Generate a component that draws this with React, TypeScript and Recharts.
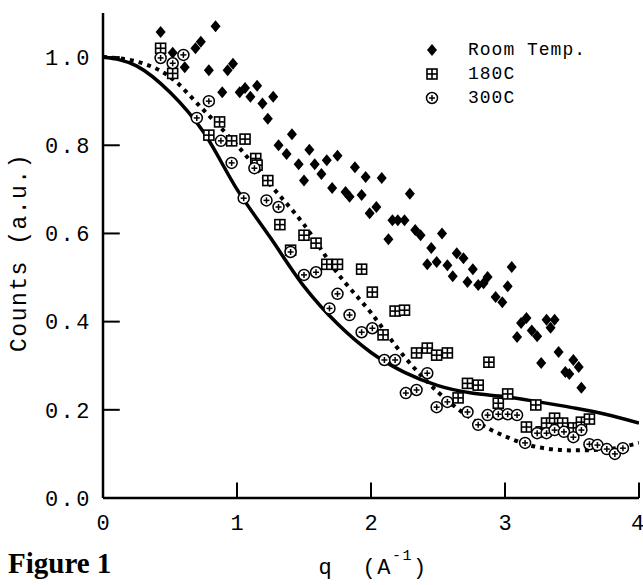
import React from 'react';
import {
  ComposedChart,
  Line,
  Scatter,
  XAxis,
  YAxis,
  ReferenceLine,
  Legend,
} from 'recharts';

// scattered counts: [q, counts]
const roomTemp: [number, number][] = [
  [0.43, 1.057], [0.52, 1.01], [0.61, 0.977], [0.69, 1.02], [0.73, 1.035], [0.79, 0.97],
  [0.84, 1.07], [0.89, 0.92], [0.93, 0.97], [0.97, 0.985], [1.02, 0.92], [1.06, 0.93],
  [1.10, 0.91], [1.15, 0.935], [1.19, 0.895], [1.23, 0.86], [1.27, 0.91], [1.31, 0.80],
  [1.37, 0.78], [1.41, 0.825], [1.46, 0.757], [1.50, 0.72], [1.54, 0.79], [1.58, 0.757],
  [1.63, 0.735], [1.67, 0.766], [1.71, 0.703], [1.75, 0.776], [1.81, 0.694], [1.84, 0.683],
  [1.88, 0.75], [1.93, 0.687], [1.96, 0.728], [1.99, 0.646], [2.04, 0.66], [2.08, 0.726],
  [2.13, 0.587], [2.16, 0.63], [2.20, 0.63], [2.25, 0.63], [2.29, 0.69], [2.33, 0.608],
  [2.37, 0.596], [2.42, 0.53], [2.45, 0.567], [2.49, 0.535], [2.53, 0.60], [2.57, 0.528],
  [2.61, 0.503], [2.64, 0.555], [2.69, 0.544], [2.72, 0.49], [2.76, 0.519], [2.80, 0.483],
  [2.84, 0.487], [2.87, 0.501], [2.93, 0.456], [2.98, 0.444], [3.02, 0.48], [3.05, 0.524],
  [3.09, 0.365], [3.12, 0.397], [3.16, 0.408], [3.20, 0.38], [3.24, 0.367], [3.27, 0.306],
  [3.31, 0.404], [3.34, 0.386], [3.37, 0.404], [3.40, 0.331], [3.45, 0.286], [3.48, 0.281],
  [3.51, 0.313], [3.55, 0.297], [3.57, 0.25],
];

const temp180: [number, number][] = [
  [0.43, 1.02], [0.52, 0.963], [0.79, 0.823], [0.87, 0.853], [0.96, 0.81], [1.06, 0.814],
  [1.14, 0.77], [1.15, 0.755], [1.23, 0.72], [1.32, 0.62], [1.40, 0.562], [1.50, 0.596],
  [1.59, 0.578], [1.67, 0.53], [1.75, 0.53], [1.93, 0.519], [2.01, 0.467], [2.09, 0.37],
  [2.18, 0.424], [2.25, 0.426], [2.34, 0.329], [2.42, 0.34], [2.49, 0.324], [2.57, 0.329],
  [2.65, 0.227], [2.72, 0.26], [2.80, 0.256], [2.88, 0.308], [2.95, 0.215], [3.02, 0.236],
  [3.16, 0.161], [3.23, 0.211], [3.27, 0.15], [3.31, 0.17], [3.37, 0.181], [3.43, 0.17],
  [3.51, 0.159], [3.57, 0.172], [3.63, 0.179],
];

const temp300: [number, number][] = [
  [0.43, 0.998], [0.52, 0.986], [0.60, 1.005], [0.70, 0.862], [0.79, 0.90], [0.88, 0.81],
  [0.96, 0.76], [1.05, 0.68], [1.13, 0.748], [1.22, 0.675], [1.31, 0.66], [1.40, 0.558],
  [1.50, 0.506], [1.59, 0.512], [1.69, 0.43], [1.75, 0.463], [1.84, 0.415], [1.93, 0.376],
  [2.01, 0.385], [2.10, 0.313], [2.18, 0.313], [2.26, 0.238], [2.34, 0.245], [2.42, 0.283],
  [2.49, 0.206], [2.57, 0.218], [2.72, 0.195], [2.80, 0.166], [2.87, 0.188], [2.95, 0.19],
  [3.02, 0.19], [3.09, 0.188], [3.15, 0.125], [3.24, 0.147], [3.31, 0.147], [3.37, 0.154],
  [3.44, 0.15], [3.51, 0.138], [3.57, 0.154], [3.63, 0.122], [3.69, 0.12], [3.76, 0.111],
  [3.82, 0.10], [3.88, 0.113],
];

// model curves
const fitQ = [0, 0.25, 0.5, 0.75, 1.0, 1.25, 1.5, 1.75, 2.0, 2.25, 2.5, 2.75, 3.0, 3.25, 3.5, 3.75, 4.0];
const solidFit = [1.0, 0.98, 0.92, 0.83, 0.70, 0.59, 0.48, 0.395, 0.33, 0.285, 0.255, 0.238, 0.23, 0.218, 0.205, 0.19, 0.17];
const dottedFit = [1.0, 0.99, 0.955, 0.88, 0.80, 0.71, 0.62, 0.51, 0.42, 0.32, 0.24, 0.18, 0.14, 0.115, 0.108, 0.11, 0.125];

const yTicks = [0, 0.2, 0.4, 0.6, 0.8, 1.0];
const xTicks = [0, 1, 2, 3, 4];

const toPts = (arr: [number, number][]) => arr.map(([q, c]) => ({ q, c }));
const toCurve = (ys: number[]) => fitQ.map((q, i) => ({ q, c: ys[i] }));

const MONO = '"Liberation Mono", "DejaVu Sans Mono", monospace';

const Diamond = (props: any) => {
  const { cx, cy } = props;
  return <path d={`M${cx},${cy - 6}L${cx + 5},${cy}L${cx},${cy + 6}L${cx - 5},${cy}Z`} fill="#000" />;
};

const SquareCross = (props: any) => {
  const { cx, cy } = props;
  return (
    <g stroke="#000" strokeWidth={1.6}>
      <rect x={cx - 5} y={cy - 5} width={10} height={10} fill="#fff" />
      <line x1={cx - 5} x2={cx + 5} y1={cy} y2={cy} />
      <line x1={cx} x2={cx} y1={cy - 5} y2={cy + 5} />
    </g>
  );
};

const CirclePlus = (props: any) => {
  const { cx, cy } = props;
  return (
    <g stroke="#000" strokeWidth={1.5}>
      <circle cx={cx} cy={cy} r={5.5} fill="#fff" />
      <line x1={cx - 3} x2={cx + 3} y1={cy} y2={cy} />
      <line x1={cx} x2={cx} y1={cy - 3} y2={cy + 3} />
    </g>
  );
};

const legendItems = [
  { name: 'Room Temp.', Shape: Diamond },
  { name: '180C', Shape: SquareCross },
  { name: '300C', Shape: CirclePlus },
];

const renderLegend = () => (
  <div style={{ fontFamily: MONO, fontSize: 18, letterSpacing: 1, color: '#000' }}>
    {legendItems.map(({ name, Shape }) => (
      <div key={name} style={{ display: 'flex', alignItems: 'center', height: 24 }}>
        <svg width={48} height={24}>
          <Shape cx={12} cy={12} />
        </svg>
        <span>{name}</span>
      </div>
    ))}
  </div>
);

export default function App() {
  return (
    <div style={{ position: 'absolute', left: 0, top: 0, width: 643, height: 585, background: '#fff' }}>
      <ComposedChart width={643} height={585} margin={{ top: 13, right: 4, bottom: 0, left: 0 }}>
        <XAxis
          dataKey="q"
          type="number"
          domain={[0, 4]}
          ticks={xTicks}
          allowDataOverflow
          height={87}
          axisLine={{ stroke: '#000', strokeWidth: 2.5 }}
          tickLine={false}
          tickMargin={10}
          tick={{ fontFamily: MONO, fontSize: 22, fill: '#000' }}
          label={{
            content: ({ viewBox }: any) => (
              <text
                x={viewBox.x + viewBox.width / 2 + 2}
                y={viewBox.y + 76}
                textAnchor="middle"
                fontFamily={MONO}
                fontSize={22}
                letterSpacing={1.5}
                fill="#000"
                style={{ whiteSpace: 'pre' }}
              >
                {'q  (A'}
                <tspan fontSize={15} dy={-14}>-1</tspan>
                <tspan dy={14}>)</tspan>
              </text>
            ),
          }}
        />
        <YAxis
          dataKey="c"
          type="number"
          domain={[0, 1.1]}
          ticks={yTicks}
          allowDataOverflow
          width={103}
          axisLine={{ stroke: '#000', strokeWidth: 2.5 }}
          tickLine={false}
          tickMargin={5}
          tickFormatter={(v: number) => v.toFixed(1)}
          tick={{ fontFamily: MONO, fontSize: 22, letterSpacing: 2.5, fill: '#000' }}
          label={{
            content: ({ viewBox }: any) => (
              <text
                transform={`translate(${viewBox.x + 20},${viewBox.y + viewBox.height / 2 - 3}) rotate(-90)`}
                textAnchor="middle"
                dominantBaseline="central"
                fontFamily={MONO}
                fontSize={23}
                letterSpacing={1.5}
                fill="#000"
              >
                Counts (a.u.)
              </text>
            ),
          }}
        />

        {yTicks.slice(1).map((v) => (
          <ReferenceLine
            key={`yt${v}`}
            segment={[{ x: 0, y: v }, { x: 0.125, y: v }]}
            stroke="#000"
            strokeWidth={2}
            ifOverflow="visible"
          />
        ))}
        {xTicks.slice(1).map((v) => (
          <ReferenceLine
            key={`xt${v}`}
            segment={[{ x: v, y: 0 }, { x: v, y: 0.035 }]}
            stroke="#000"
            strokeWidth={2}
            ifOverflow="visible"
          />
        ))}

        <Line
          data={toCurve(solidFit)}
          dataKey="c"
          type="monotone"
          stroke="#000"
          strokeWidth={3.5}
          dot={false}
          activeDot={false}
          isAnimationActive={false}
          legendType="none"
        />
        <Line
          data={toCurve(dottedFit)}
          dataKey="c"
          type="monotone"
          stroke="#000"
          strokeWidth={4}
          strokeDasharray="4 5"
          dot={false}
          activeDot={false}
          isAnimationActive={false}
          legendType="none"
        />

        <Scatter name="Room Temp." data={toPts(roomTemp)} shape={Diamond} isAnimationActive={false} />
        <Scatter name="180C" data={toPts(temp180)} shape={SquareCross} isAnimationActive={false} />
        <Scatter name="300C" data={toPts(temp300)} shape={CirclePlus} isAnimationActive={false} />

        <Legend
          layout="vertical"
          align="center"
          verticalAlign="middle"
          content={renderLegend}
          wrapperStyle={{ left: 420, top: 38, width: 220, height: 80 }}
        />
      </ComposedChart>
      <div
        style={{
          position: 'absolute',
          left: 8,
          top: 547,
          fontFamily: '"Liberation Serif", serif',
          fontWeight: 'bold',
          fontSize: 29,
          color: '#000',
        }}
      >
        Figure 1
      </div>
    </div>
  );
}
